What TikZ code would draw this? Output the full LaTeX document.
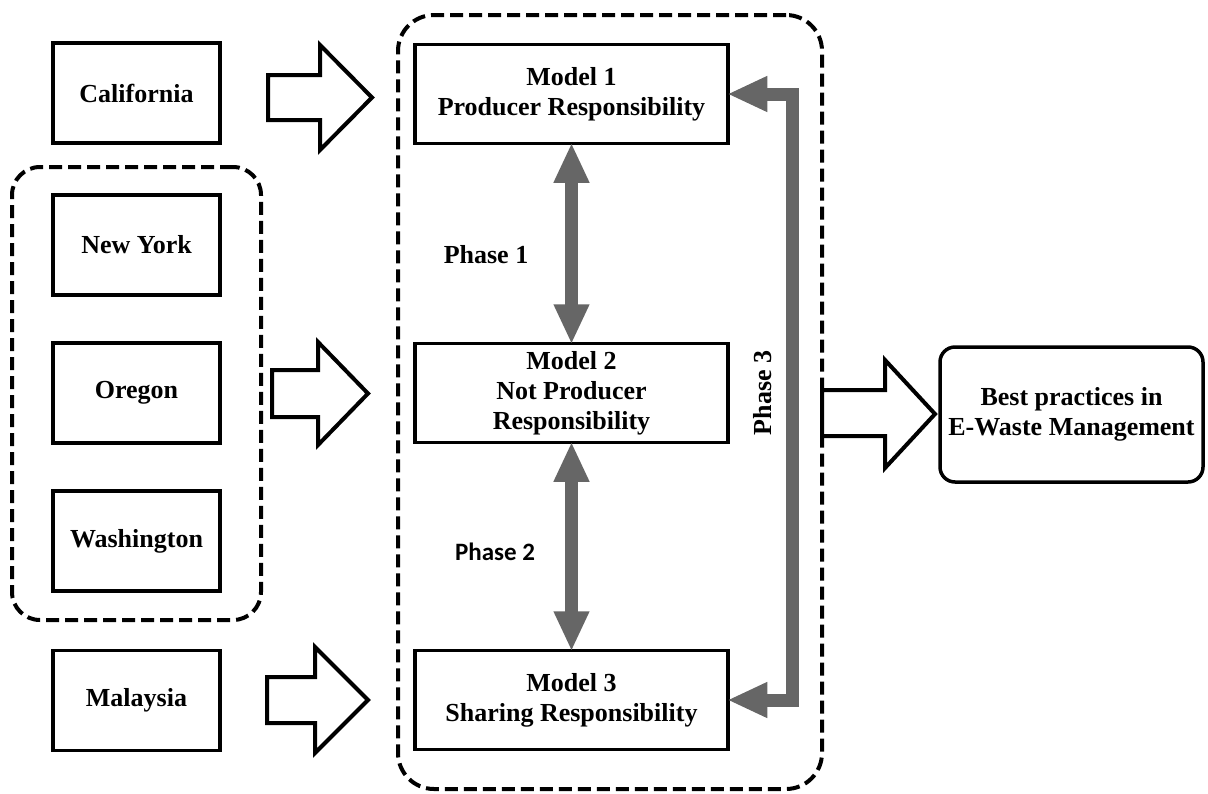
\documentclass[tikz,border=0pt]{standalone}
\usepackage{fontspec}
\setmainfont{Liberation Serif}
\newfontfamily\calib{Carlito}
\usetikzlibrary{arrows.meta}
\definecolor{pgray}{RGB}{102,102,102}
\tikzset{
  x=1pt, y=1pt,
  statebox/.style={draw=black, line width=3.5pt, fill=white, minimum width=167pt, minimum height=100pt, inner sep=0pt, font=\fontsize{26}{30}\selectfont\bfseries, align=center},
  modelbox/.style={draw=black, line width=3.5pt, fill=white, minimum width=313pt, minimum height=99pt, inner sep=0pt, font=\fontsize{26}{30}\selectfont\bfseries, align=center},
  grpbox/.style={draw=black, line width=4pt, dash pattern=on 13pt off 6pt, inner sep=0pt},
  hollow/.style={draw=black, line width=4pt, fill=white, line join=miter},
  grayarrow/.style={draw=pgray, line width=13pt, line join=miter, shorten <=-2.5pt, shorten >=-2.5pt, {Triangle[length=40pt,width=33pt]}-{Triangle[length=40pt,width=33pt]}},
  lbl/.style={font=\fontsize{26}{30}\selectfont\bfseries, inner sep=0pt}
}
\begin{document}
\begin{tikzpicture}
\useasboundingbox (0,0) rectangle (1208,-793);
% group boxes
\node[grpbox, rounded corners=28pt, minimum width=249pt, minimum height=453pt] (grp) at (136.5,-393.5) {};
\node[grpbox, rounded corners=36pt, minimum width=424pt, minimum height=774pt] (big) at (610,-402) {};
% states
\node[statebox] (cal) at (136.5,-93) {California};
\node[statebox] (ny) at (136.5,-245) {New York};
\node[statebox] (or) at (136.5,-393) {Oregon};
\node[statebox] (wa) at (136.5,-541) {Washington};
\node[statebox] (ma) at (136.5,-700.5) {Malaysia};
% models
\node[modelbox] (m1) at (571.5,-94) {Model 1\\Producer Responsibility};
\node[modelbox] (m2) at (571.5,-393) {Model 2\\Not Producer\\Responsibility};
\node[modelbox] (m3) at (571.5,-700) {Model 3\\Sharing Responsibility};
% best practices
\node[draw=black, line width=3.5pt, rounded corners=15pt, minimum width=263pt, minimum height=135pt, inner sep=0pt, font=\fontsize{26}{30}\selectfont\bfseries, align=center] (best) at (1071.5,-414.5) {Best practices in\\E-Waste Management};
% hollow block arrows
\draw[hollow] (268,-75) -- (320,-75) -- (320,-45) -- (372,-97.5) -- (320,-150) -- (320,-120) -- (268,-120) -- cycle;
\draw[hollow] (272,-370) -- (318,-370) -- (318,-342) -- (368,-393.5) -- (318,-445) -- (318,-417) -- (272,-417) -- cycle;
\draw[hollow] (267,-677) -- (315,-677) -- (315,-647) -- (368,-700) -- (315,-753) -- (315,-723) -- (267,-723) -- cycle;
\draw[hollow] (822,-390) -- (885,-390) -- (885,-360) -- (935,-414) -- (885,-468) -- (885,-436) -- (822,-436) -- cycle;
% gray arrows
\draw[grayarrow] (m1.south) -- (m2.north);
\draw[grayarrow] (m2.south) -- (m3.north);
\coordinate (p3) at (792,0);
\draw[grayarrow] (m1.east) -- (m1.east -| p3) -- (m3.east -| p3) -- (m3.east);
% labels
\node[lbl] (ph1) at (486,-255) {Phase 1};
\node[font=\calib\fontsize{25}{29}\selectfont\bfseries, inner sep=0pt] (ph2) at (495,-552) {Phase 2};
\node[lbl, rotate=90] (ph3) at (763,-393) {Phase 3};
\end{tikzpicture}
\end{document}
